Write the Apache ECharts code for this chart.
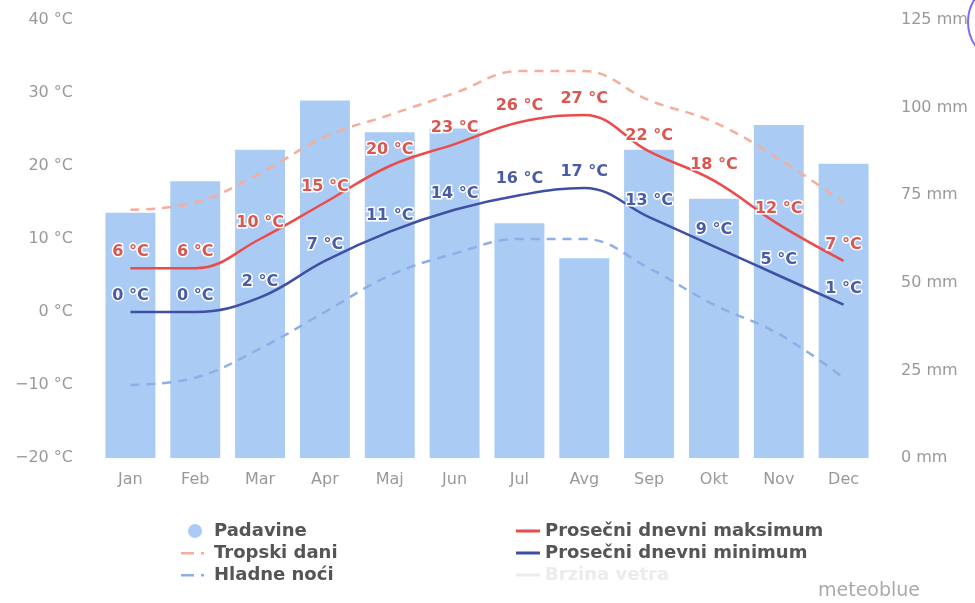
<!DOCTYPE html>
<html>
<head>
<meta charset="utf-8">
<script src="https://cdn.jsdelivr.net/npm/echarts@6/dist/echarts.min.js"></script>
<style>
  html, body { margin: 0; padding: 0; background: #fff; }
  #chart { width: 975px; height: 603px; }
</style>
</head>
<body>
<div id="chart"></div>
<script>
// Monthly climate summary: precipitation bars and temperature curves
const months = ['Jan', 'Feb', 'Mar', 'Apr', 'Maj', 'Jun', 'Jul', 'Avg', 'Sep', 'Okt', 'Nov', 'Dec'];
const precipitation = [70, 79, 88, 102, 93, 94, 67, 57, 88, 74, 95, 84];      // mm
const avgMax = [6, 6, 10, 15, 20, 23, 26, 27, 22, 18, 12, 7];                  // °C
const avgMin = [0, 0, 2, 7, 11, 14, 16, 17, 13, 9, 5, 1];                      // °C
const hotDays = [14, 15, 19, 24, 27, 30, 33, 33, 29, 26, 21, 15];              // °C
const coldNights = [-10, -9, -5, 0, 5, 8, 10, 10, 6, 1, -3, -9];               // °C
const windSpeed = [];
const tempTicks = { min: -20, max: 40, step: 10 };
const rainTicks = { min: 0, max: 125, step: 25 };

const FONT = 'DejaVu Sans';
const C_BAR = '#aacbf3';
const C_MAX = '#ec4b4b';
const C_MIN = '#3f4fa6';
const C_HOT = '#f5ad9c';
const C_COLD = '#8daee6';

const chart = echarts.init(document.getElementById('chart'), null, { renderer: 'canvas' });

const lineLabel = (color) => ({
  show: true,
  position: 'top',
  distance: 8,
  formatter: '{c} °C',
  color: color,
  fontFamily: FONT,
  fontWeight: 'bold',
  fontSize: 16,
  textBorderColor: '#ffffff',
  textBorderWidth: 3
});

const dashIcon = 'path://M0,6h13v2.6h-13z M20,6h3v2.6h-3z M0,0h0.05v0.05h-0.05z M27.95,13.95h0.05v0.05h-0.05z';
const legendText = { fontFamily: FONT, fontWeight: 'bold', fontSize: 18, color: '#555' };
const axisText = { color: '#999', fontSize: 16, fontFamily: FONT };

chart.setOption({
  animation: false,
  textStyle: { fontFamily: FONT },
  grid: { left: 98, right: 99, top: 20, bottom: 145 },
  legend: [
    {
      orient: 'vertical',
      left: 176,
      top: 517,
      itemWidth: 28,
      itemHeight: 14,
      itemGap: 4,
      textStyle: legendText,
      data: [
        { name: 'Padavine', icon: 'circle' },
        { name: 'Tropski dani', icon: dashIcon },
        { name: 'Hladne noći', icon: dashIcon }
      ]
    },
    {
      orient: 'vertical',
      left: 511,
      top: 517,
      itemWidth: 24,
      itemHeight: 3,
      itemGap: 4,
      inactiveColor: '#ececec',
      textStyle: legendText,
      selected: { 'Brzina vetra': false },
      data: [
        { name: 'Prosečni dnevni maksimum', icon: 'rect' },
        { name: 'Prosečni dnevni minimum', icon: 'rect' },
        { name: 'Brzina vetra', icon: 'rect' }
      ]
    }
  ],
  xAxis: {
    type: 'category',
    data: months,
    boundaryGap: true,
    axisLine: { show: false },
    axisTick: { show: false },
    axisLabel: Object.assign({ margin: 14 }, axisText)
  },
  yAxis: [
    {
      type: 'value',
      min: tempTicks.min,
      max: tempTicks.max,
      interval: tempTicks.step,
      splitLine: { show: false },
      axisLine: { show: false },
      axisTick: { show: false },
      axisLabel: Object.assign({
        margin: 25,
        formatter: (v) => (v < 0 ? '\u2212' + Math.abs(v) : v) + ' °C'
      }, axisText)
    },
    {
      type: 'value',
      min: rainTicks.min,
      max: rainTicks.max,
      interval: rainTicks.step,
      splitLine: { show: false },
      axisLine: { show: false },
      axisTick: { show: false },
      axisLabel: Object.assign({ margin: 25, formatter: '{value} mm' }, axisText)
    },
    {
      type: 'value',
      show: false,
      min: 0,
      max: 10
    }
  ],
  series: [
    {
      name: 'Padavine',
      type: 'bar',
      yAxisIndex: 1,
      data: precipitation,
      barWidth: '77%',
      itemStyle: { color: C_BAR },
      z: 1
    },
    {
      name: 'Tropski dani',
      type: 'line',
      data: hotDays,
      smooth: 0.4,
      symbol: 'none',
      lineStyle: { color: C_HOT, width: 2.5, type: [9, 7] },
      itemStyle: { color: C_HOT },
      z: 2
    },
    {
      name: 'Hladne noći',
      type: 'line',
      data: coldNights,
      smooth: 0.4,
      symbol: 'none',
      lineStyle: { color: C_COLD, width: 2.5, type: [9, 7] },
      itemStyle: { color: C_COLD },
      z: 2
    },
    {
      name: 'Prosečni dnevni maksimum',
      type: 'line',
      data: avgMax,
      smooth: 0.4,
      symbol: 'circle',
      symbolSize: 0.1,
      showSymbol: true,
      lineStyle: { color: C_MAX, width: 2.5 },
      itemStyle: { color: C_MAX },
      label: lineLabel('#d9574f'),
      z: 3
    },
    {
      name: 'Prosečni dnevni minimum',
      type: 'line',
      data: avgMin,
      smooth: 0.4,
      symbol: 'circle',
      symbolSize: 0.1,
      showSymbol: true,
      lineStyle: { color: C_MIN, width: 2.5 },
      itemStyle: { color: C_MIN },
      label: lineLabel('#4a5ba8'),
      z: 3
    },
    {
      name: 'Brzina vetra',
      type: 'line',
      yAxisIndex: 2,
      data: windSpeed,
      symbol: 'none',
      lineStyle: { color: '#888', width: 2 },
      itemStyle: { color: '#888' }
    }
  ],
  graphic: [
    {
      type: 'text',
      left: 818,
      top: 582,
      style: { text: 'meteoblue', fill: '#aaa', font: '19px "DejaVu Sans"' }
    },
    {
      type: 'circle',
      shape: { cx: 1010, cy: 22, r: 42 },
      style: { fill: 'none', stroke: '#7a6df2', lineWidth: 2 }
    }
  ]
});
</script>
</body>
</html>
